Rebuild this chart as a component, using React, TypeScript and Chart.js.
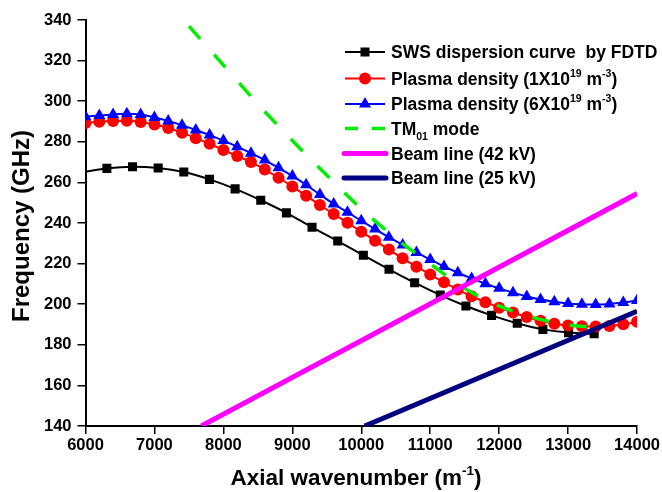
import React, { useEffect, useRef } from "react";
import { Chart, registerables } from "chart.js";

Chart.register(...registerables);

// ---- data ----
const swsK = [6000, 6310, 6682, 7054, 7426, 7798, 8170, 8542, 8914, 9286, 9658, 10030, 10402, 10774, 11146, 11518, 11890, 12262, 12634, 13006, 13378];
const swsF = [265.3, 266.9, 267.7, 267.1, 265.1, 261.5, 256.8, 251.2, 245.0, 237.9, 231.1, 224.1, 217.2, 210.6, 204.5, 199.1, 194.5, 190.6, 187.6, 186.0, 185.5];

const plasmaK = [6000, 6200, 6400, 6600, 6800, 7000, 7200, 7400, 7600, 7800, 8000, 8200, 8400, 8600, 8800, 9000, 9200, 9400, 9600, 9800, 10000, 10200, 10400, 10600, 10800, 11000, 11200, 11400, 11600, 11800, 12000, 12200, 12400, 12600, 12800, 13000, 13200, 13400, 13600, 13800, 14000];
const plasma1F = [289.2, 289.9, 290.3, 290.4, 289.8, 288.5, 286.8, 284.5, 281.8, 279.0, 276.0, 273.0, 270.0, 266.3, 262.3, 258.0, 253.4, 248.9, 244.4, 240.1, 235.7, 231.3, 226.9, 222.6, 218.5, 214.6, 210.8, 207.2, 203.9, 201.0, 198.3, 195.9, 193.7, 191.8, 190.4, 189.5, 189.1, 189.0, 189.3, 190.1, 191.3];
const plasma6F = [292.4, 293.0, 293.5, 293.8, 293.4, 292.0, 290.3, 288.2, 285.8, 283.3, 280.6, 277.6, 274.4, 271.0, 267.2, 263.2, 258.8, 254.0, 249.4, 245.3, 241.1, 237.0, 233.0, 229.2, 225.5, 222.0, 218.6, 215.5, 212.7, 210.1, 207.8, 205.7, 203.8, 202.3, 201.2, 200.4, 200.0, 199.8, 200.1, 200.8, 201.8];

const tm01K = [7500, 8000, 8500, 9000, 9500, 10000, 10500, 11000, 11500, 12000, 12500, 13000, 13400];
const tm01F = [337.0, 317.8, 298.6, 280.6, 263.5, 247.0, 232.5, 219.9, 207.8, 199.2, 193.4, 189.7, 188.6];

const beam42K = [7680, 14000];
const beam42F = [140, 254.5];
const beam25K = [10050, 14000];
const beam25F = [140, 196.5];

const yTickMin = 140;
const yTickMax = 340;
const yTickStep = 20;
const xTickMin = 6000;
const xTickMax = 14000;
const xTickStep = 1000;

type Part = { t: string; s?: "sup" | "sub" };

const xTitle: Part[] = [{ t: "Axial wavenumber (m" }, { t: "-1", s: "sup" }, { t: ")" }];
const yTitle = "Frequency (GHz)";

const legendLabels: Part[][] = [
  [{ t: "SWS dispersion curve  by FDTD" }],
  [{ t: "Plasma density (1X10" }, { t: "19", s: "sup" }, { t: " m" }, { t: "-3", s: "sup" }, { t: ")" }],
  [{ t: "Plasma density (6X10" }, { t: "19", s: "sup" }, { t: " m" }, { t: "-3", s: "sup" }, { t: ")" }],
  [{ t: "TM" }, { t: "01", s: "sub" }, { t: " mode" }],
  [{ t: "Beam line (42 kV)" }],
  [{ t: "Beam line (25 kV)" }],
];

const FONT = "'Liberation Sans', Arial, Helvetica, sans-serif";

const pts = (xs: number[], ys: number[]) => xs.map((x, i) => ({ x, y: ys[i] }));

function partFont(p: Part, size: number) {
  const s = p.s ? size * 0.6 : size;
  return `bold ${s}px ${FONT}`;
}

function drawRich(ctx: CanvasRenderingContext2D, parts: Part[], x: number, baseline: number, size: number, align: "left" | "center") {
  const widths = parts.map((p) => {
    ctx.font = partFont(p, size);
    return ctx.measureText(p.t).width;
  });
  const total = widths.reduce((a, b) => a + b, 0);
  let cx = align === "center" ? x - total / 2 : x;
  ctx.textAlign = "left";
  ctx.textBaseline = "alphabetic";
  parts.forEach((p, i) => {
    ctx.font = partFont(p, size);
    const dy = p.s === "sup" ? -0.45 * size : p.s === "sub" ? 0.3 * size : 0;
    ctx.fillText(p.t, cx, baseline + dy);
    cx += widths[i];
  });
}

const overlayPlugin = {
  id: "overlay",
  afterDraw(chart: any) {
    const ctx: CanvasRenderingContext2D = chart.ctx;
    ctx.save();
    ctx.fillStyle = "#000";

    // y title
    ctx.save();
    ctx.translate(22, 226);
    ctx.rotate(-Math.PI / 2);
    ctx.font = `bold 24px ${FONT}`;
    ctx.textAlign = "center";
    ctx.textBaseline = "middle";
    ctx.fillText(yTitle, 0, 0);
    ctx.restore();

    // x title
    drawRich(ctx, xTitle, 356, 485, 22.5, "center");

    // legend
    const rows = [52, 78.5, 104, 128.5, 153.5, 178];
    const x0 = 345;
    const x1 = 385;
    const xm = (x0 + x1) / 2;
    const textX = 391;
    rows.forEach((cy, i) => {
      ctx.save();
      ctx.setLineDash([]);
      ctx.lineCap = "butt";
      if (i === 0 || i === 1 || i === 2) {
        const col = i === 0 ? "#000000" : i === 1 ? "#FF0000" : "#0000FF";
        ctx.strokeStyle = col;
        ctx.fillStyle = col;
        ctx.lineWidth = 2;
        ctx.beginPath();
        ctx.moveTo(x0, cy);
        ctx.lineTo(x1, cy);
        ctx.stroke();
        ctx.beginPath();
        if (i === 0) {
          ctx.rect(xm - 4.5, cy - 4.5, 9, 9);
        } else if (i === 1) {
          ctx.arc(xm, cy, 6, 0, Math.PI * 2);
        } else {
          const r = 7;
          ctx.moveTo(xm, cy - r);
          ctx.lineTo(xm + r * Math.sin((2 * Math.PI) / 3), cy - r * Math.cos((2 * Math.PI) / 3));
          ctx.lineTo(xm + r * Math.sin((4 * Math.PI) / 3), cy - r * Math.cos((4 * Math.PI) / 3));
          ctx.closePath();
        }
        ctx.fill();
      } else if (i === 3) {
        ctx.strokeStyle = "#00EE00";
        ctx.lineWidth = 3.5;
        ctx.beginPath();
        ctx.moveTo(x0, cy);
        ctx.lineTo(x0 + 13, cy);
        ctx.moveTo(x1 - 13, cy);
        ctx.lineTo(x1, cy);
        ctx.stroke();
      } else {
        ctx.strokeStyle = i === 4 ? "#FF00FF" : "#000080";
        ctx.lineWidth = 5;
        ctx.lineCap = "round";
        ctx.beginPath();
        ctx.moveTo(x0 - 1, cy);
        ctx.lineTo(x1 + 1, cy);
        ctx.stroke();
      }
      ctx.restore();
      ctx.fillStyle = "#000";
      drawRich(ctx, legendLabels[i], textX, cy + 6.2, 17.5, "left");
    });

    ctx.restore();
  },
};

export default function App() {
  const canvasRef = useRef<HTMLCanvasElement | null>(null);

  useEffect(() => {
    const canvas = canvasRef.current;
    if (!canvas) return;
    const tickFont = { family: FONT, size: 16.5, weight: "bold" as const };
    const chart = new Chart(canvas, {
      type: "line",
      data: {
        datasets: [
          {
            label: "SWS dispersion curve  by FDTD",
            data: pts(swsK, swsF),
            borderColor: "#000000",
            backgroundColor: "#000000",
            borderWidth: 2,
            pointStyle: "rect",
            pointRadius: swsK.map((_, i) => (i === 0 ? 0 : 6.4)),
            pointBorderWidth: 0,
            cubicInterpolationMode: "monotone",
            order: 6,
          },
          {
            label: "Plasma density (1X10^19 m^-3)",
            data: pts(plasmaK, plasma1F),
            borderColor: "#FF0000",
            backgroundColor: "#FF0000",
            borderWidth: 2,
            pointStyle: "circle",
            pointRadius: 6,
            pointBorderWidth: 0,
            cubicInterpolationMode: "monotone",
            order: 5,
          },
          {
            label: "Plasma density (6X10^19 m^-3)",
            data: pts(plasmaK, plasma6F),
            borderColor: "#0000FF",
            backgroundColor: "#0000FF",
            borderWidth: 2,
            pointStyle: "triangle",
            pointRadius: 7,
            pointBorderWidth: 0,
            cubicInterpolationMode: "monotone",
            order: 4,
          },
          {
            label: "TM01 mode",
            data: pts(tm01K, tm01F),
            borderColor: "#00EE00",
            borderWidth: 3.5,
            borderDash: [17, 21],
            pointRadius: 0,
            cubicInterpolationMode: "monotone",
            order: 3,
          },
          {
            label: "Beam line (42 kV)",
            data: pts(beam42K, beam42F),
            borderColor: "#FF00FF",
            borderWidth: 5,
            pointRadius: 0,
            clip: 0,
            order: 2,
          },
          {
            label: "Beam line (25 kV)",
            data: pts(beam25K, beam25F),
            borderColor: "#000080",
            borderWidth: 5,
            pointRadius: 0,
            clip: 0,
            order: 1,
          },
        ],
      },
      options: {
        animation: false,
        responsive: false,
        devicePixelRatio: 1,
        layout: { padding: { left: 0, top: 20, right: 24, bottom: 0 } },
        plugins: {
          legend: { display: false },
          tooltip: { enabled: false },
        },
        scales: {
          x: {
            type: "linear",
            min: xTickMin,
            max: xTickMax,
            ticks: {
              stepSize: xTickStep,
              color: "#000",
              font: tickFont,
              padding: 2,
              maxRotation: 0,
              autoSkip: false,
              callback: (v: any) => String(v),
            },
            grid: { drawOnChartArea: false, drawTicks: true, tickLength: 8, color: "#000", lineWidth: 1.5 },
            border: { display: true, color: "#000", width: 2 },
            afterFit: (s: any) => {
              s.height = 66;
            },
          },
          y: {
            type: "linear",
            min: yTickMin,
            max: yTickMax,
            ticks: {
              stepSize: yTickStep,
              color: "#000",
              font: tickFont,
              padding: 6,
              autoSkip: false,
              callback: (v: any) => String(v),
            },
            grid: { drawOnChartArea: false, drawTicks: true, tickLength: 8, color: "#000", lineWidth: 1.5 },
            border: { display: true, color: "#000", width: 2 },
            afterFit: (s: any) => {
              s.width = 85.5;
            },
          },
        },
      },
      plugins: [overlayPlugin],
    } as any);
    return () => {
      chart.destroy();
    };
  }, []);

  return (
    <div style={{ position: "fixed", left: 0, top: 0, width: 662, height: 492, background: "#fff" }}>
      <canvas ref={canvasRef} width={662} height={492} style={{ display: "block" }} />
    </div>
  );
}
